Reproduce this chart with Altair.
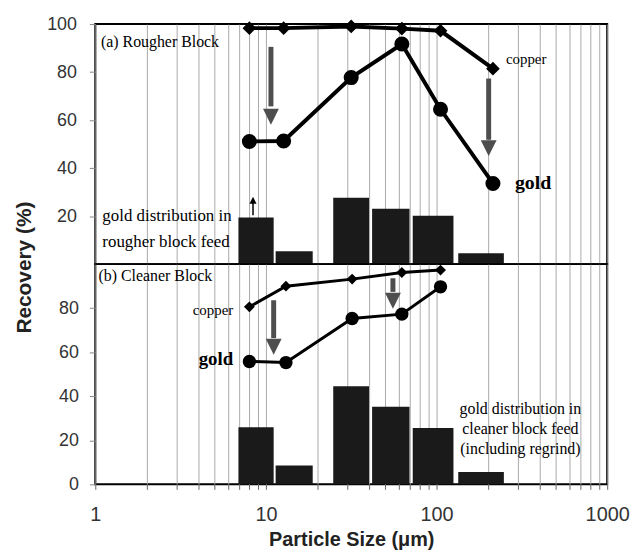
import altair as alt
import pandas as pd

# ---------------- data ----------------
sizes = [8, 12.7, 31.6, 62.6, 105.5, 214]
rough_copper = [98.3, 98.3, 99.0, 98.1, 97.2, 81.4]
rough_gold = [51.1, 51.3, 77.7, 91.7, 64.5, 33.6]
clean_sizes = [8, 13.1, 32, 62.6, 105.5]
clean_copper = [80.6, 90.0, 93.2, 96.2, 97.3]
clean_gold = [55.8, 55.3, 75.3, 77.3, 89.7]

bin_lo = [6.9, 11.4, 24.8, 41.9, 72.5, 134]
bin_hi = [11.1, 18.8, 40.2, 69.4, 125.6, 248]
rough_dist = [19.4, 5.4, 27.7, 23.1, 20.2, 4.5]
clean_dist = [25.9, 8.6, 44.5, 35.2, 25.6, 5.6]

# arrows: x, shaft start, shaft end, head centre
rough_arrows_x = [10.7, 202]
rough_arrows_y1 = [90.5, 77.3]
rough_arrows_y2 = [65.7, 51.8]
rough_arrows_head = [61.4, 48.3]
clean_arrows_x = [11.1, 55.5]
clean_arrows_y1 = [83.6, 93.6]
clean_arrows_y2 = [66.4, 87.4]
clean_arrows_head = [62.5, 83.4]
up_arrow_x = [8.4]
up_arrow_y1 = [20.4]
up_arrow_y2 = [25.5]
up_arrow_head = [26.6]

rough_text = ["(a) Rougher Block", "gold distribution in", "rougher block feed"]
rough_text_x = [1.08, 1.1, 1.1]
rough_text_y = [92.6, 20.2, 9.1]
clean_text = ["gold distribution in", "cleaner block feed", "(including regrind)"]
clean_text_x = [310, 310, 310]
clean_text_y = [34.1, 25.0, 15.9]

grid_vals = [1, 2, 3, 4, 5, 6, 7, 8, 9, 10, 20, 30, 40, 50, 60, 70, 80, 90,
             100, 200, 300, 400, 500, 600, 700, 800, 900, 1000]

W = 516
xscale = alt.Scale(type="log", domain=[1, 1000], nice=False)
yscale = alt.Scale(domain=[0, 100], nice=False)
SERIF = "Liberation Serif"
SANS = "Liberation Sans"
ARROW = "#4e4e4e"
HEAD_DOWN = "M-1,-1L1,-1L0,1Z"
HEAD_UP = "M-1,1L1,1L0,-1Z"


def panel(top):
    if top:
        xaxis = alt.Axis(values=grid_vals, grid=True, labels=False, ticks=False,
                         domain=False, title=None, gridColor="#a0a0a0", gridWidth=0.9)
        yaxis = alt.Axis(values=[20, 40, 60, 80, 100], grid=False, domain=False,
                         tickSize=6, tickColor="#888", labelFontSize=18, labelColor="#333",
                         labelFont=SANS, labelPadding=13,
                         title="Recovery (%)", titleFont=SANS, titleFontSize=21,
                         titleFontWeight="bold", titleColor="#222", titleAngle=-90,
                         titleX=-82, titleY=245, titleBaseline="top", titleAlign="center")
        s, cu, au, dist = sizes, rough_copper, rough_gold, rough_dist
        H = 242
    else:
        xaxis = alt.Axis(values=grid_vals, grid=True, domain=False, tickSize=5,
                         tickColor="#666", gridColor="#a0a0a0", gridWidth=0.9,
                         labelExpr="indexof([1,10,100,1000], datum.value) >= 0 ? format(datum.value, 'd') : ''",
                         labelFontSize=20, labelColor="#333", labelFont=SANS, labelPadding=15,
                         labelFlush=False,
                         title="Particle Size (\u03bcm)", titleFont=SANS, titleFontSize=20,
                         titleFontWeight="bold", titleColor="#222", titlePadding=6)
        yaxis = alt.Axis(values=[0, 20, 40, 60, 80], grid=False, domain=False,
                         tickSize=6, tickColor="#888", labelFontSize=18, labelColor="#333",
                         labelFont=SANS, labelPadding=11, title=None)
        s, cu, au, dist = clean_sizes, clean_copper, clean_gold, clean_dist
        H = 222

    def X(f):
        return alt.X(f, type="quantitative", scale=xscale, axis=xaxis)

    def Y(f):
        return alt.Y(f, type="quantitative", scale=yscale, axis=yaxis)

    df_bars = pd.DataFrame({"lo": bin_lo, "hi": bin_hi, "v": dist})
    bars = alt.Chart(df_bars).mark_rect(color="#1a1a1a").encode(
        x=X("lo"), x2="hi", y=Y("v"), y2=alt.datum(0))

    df_cu = pd.DataFrame({"size": s, "value": cu})
    df_au = pd.DataFrame({"size": s, "value": au})
    lw = 4 if top else 3
    cu_line = alt.Chart(df_cu).mark_line(color="black", strokeWidth=lw).encode(x=X("size"), y=Y("value"))
    au_line = alt.Chart(df_au).mark_line(color="black", strokeWidth=lw).encode(x=X("size"), y=Y("value"))
    cu_pts = alt.Chart(df_cu).mark_point(shape="diamond", filled=True, color="black", opacity=1,
                                         size=190 if top else 120).encode(x=X("size"), y=Y("value"))
    au_pts = alt.Chart(df_au).mark_point(shape="circle", filled=True, color="black", opacity=1,
                                         size=230 if top else 180).encode(x=X("size"), y=Y("value"))

    if top:
        df_ar = pd.DataFrame({"x": rough_arrows_x, "y1": rough_arrows_y1,
                              "y2": rough_arrows_y2, "h": rough_arrows_head})
    else:
        df_ar = pd.DataFrame({"x": clean_arrows_x, "y1": clean_arrows_y1,
                              "y2": clean_arrows_y2, "h": clean_arrows_head})
    shaft = alt.Chart(df_ar).mark_rule(color=ARROW, strokeWidth=5).encode(x=X("x"), y=Y("y1"), y2="y2")
    head = alt.Chart(df_ar).mark_point(shape=HEAD_DOWN, filled=True, color=ARROW, opacity=1,
                                       size=256).encode(x=X("x"), y=Y("h"))

    layers = [bars, cu_line, au_line, cu_pts, au_pts, shaft, head]

    if top:
        df_up = pd.DataFrame({"x": up_arrow_x, "y1": up_arrow_y1, "y2": up_arrow_y2, "h": up_arrow_head})
        layers.append(alt.Chart(df_up).mark_rule(color="black", strokeWidth=1.5).encode(
            x=X("x"), y=Y("y1"), y2="y2"))
        layers.append(alt.Chart(df_up).mark_point(shape=HEAD_UP, filled=True, color="black",
                                                  opacity=1, size=50).encode(x=X("x"), y=Y("h")))
        df_t = pd.DataFrame({"x": rough_text_x, "y": rough_text_y, "t": rough_text,
                             "fs": [16, 17, 17]})
        layers.append(alt.Chart(df_t).mark_text(font=SERIF, align="left", baseline="middle",
                                                color="black").encode(
            x=X("x"), y=Y("y"), text="t", size=alt.Size("fs:Q", scale=None, legend=None)))
        df_lab = pd.DataFrame({"x": [255, 288], "y": [85.5, 33.9], "t": ["copper", "gold"],
                               "w": ["normal", "bold"], "fs": [15, 20]})
    else:
        layers.append(alt.Chart(pd.DataFrame({"x": [2.25], "y": [94.5], "t": ["(b) Cleaner Block"]})).mark_text(
            font=SERIF, align="center", baseline="middle", color="black", fontSize=16).encode(
            x=X("x"), y=Y("y"), text="t"))
        df_t = pd.DataFrame({"x": clean_text_x, "y": clean_text_y, "t": clean_text})
        layers.append(alt.Chart(df_t).mark_text(font=SERIF, align="center", baseline="middle",
                                                color="black", fontSize=16).encode(
            x=X("x"), y=Y("y"), text="t"))
        df_lab = pd.DataFrame({"x": [6.43, 6.43], "y": [79.1, 56.8], "t": ["copper", "gold"],
                               "w": ["normal", "bold"], "fs": [15, 19]})

    for w in ["normal", "bold"]:
        sub = df_lab[df_lab["w"] == w]
        layers.append(alt.Chart(sub).mark_text(
            font=SERIF, fontWeight=w, align="left" if top else "right", baseline="middle",
            color="black").encode(x=X("x"), y=Y("y"), text="t",
                                  size=alt.Size("fs:Q", scale=None, legend=None)))

    return alt.layer(*layers).properties(width=W, height=H)


chart = alt.vconcat(panel(True), panel(False), spacing=0, bounds="flush").properties(
    padding={"left": 5, "top": 4, "right": 0, "bottom": 0}
).configure_view(stroke="black", strokeWidth=2)

chart.save("out.html", embed_options={"renderer": "svg", "actions": False})
